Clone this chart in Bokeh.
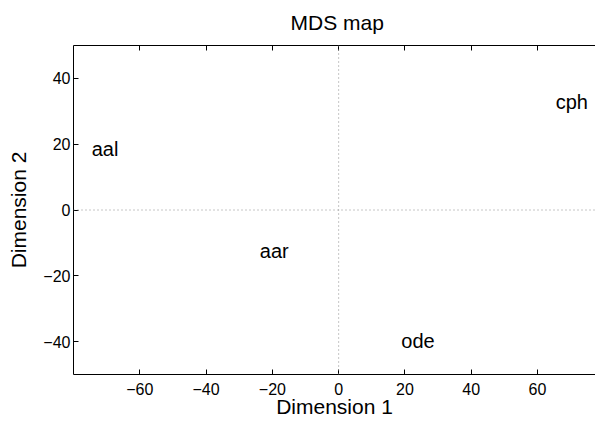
from bokeh.plotting import figure
from bokeh.models import Range1d, LinearAxis, FixedTicker, Span, ColumnDataSource, CustomLabelingPolicy
from bokeh.core.properties import value
from bokeh.embed import file_html
from bokeh.resources import INLINE

# data
names = ["aal", "aar", "cph", "ode"]
dim1 = [-74.5, -23.8, 65.5, 18.9]
dim2 = [18.6, -12.5, 32.8, -39.9]

x_ticks = [-60, -40, -20, 0, 20, 40, 60]
y_ticks = [-40, -20, 0, 20, 40]

FONT = "Liberation Sans"

def minus(v):
    return str(v).replace("-", "\u2212")

p = figure(width=595, height=421,
           x_range=Range1d(-80, 77.5), y_range=Range1d(-50, 50),
           output_backend="svg", toolbar_location=None,
           min_border_left=73, min_border_top=44, min_border_right=0, min_border_bottom=47,
           title="MDS map")
p.title.align = "left"
p.title.offset = 217
p.title.text_font = FONT
p.title.text_font_size = "21px"
p.title.text_font_style = "normal"
p.title.text_color = "black"
p.title.standoff = 16

p.grid.visible = False
p.outline_line_color = None
p.background_fill_color = "white"
p.border_fill_color = "white"

def style_axis(ax, ticks, label=None):
    ax.ticker = FixedTicker(ticks=ticks)
    ax.major_label_overrides = {t: minus(t) for t in ticks}
    ax.major_tick_in = 5
    ax.major_tick_out = 0
    ax.minor_tick_line_color = None
    ax.axis_line_color = "black"
    ax.axis_line_width = 1
    ax.major_tick_line_color = "black"
    ax.major_label_text_font = FONT
    ax.major_label_text_font_size = "16px"
    ax.major_label_text_color = "black"
    if label is not None:
        ax.axis_label = label
        ax.axis_label_text_font = FONT
        ax.axis_label_text_font_size = "21px"
        ax.axis_label_text_font_style = "normal"
        ax.axis_label_text_color = "black"

style_axis(p.xaxis[0], x_ticks, "Dimension 1")
p.xaxis[0].major_label_standoff = 8
p.xaxis[0].axis_label_standoff = -3
style_axis(p.yaxis[0], y_ticks, "Dimension 2")
p.yaxis[0].major_label_standoff = 3
p.yaxis[0].axis_label_standoff = 10

top = LinearAxis()
style_axis(top, x_ticks)
top.major_label_text_font_size = "1px"
top.major_label_standoff = 0
top.major_label_policy = CustomLabelingPolicy(code="return new Set()")
p.add_layout(top, "above")

p.add_layout(Span(location=0, dimension="width", line_color="#8c8c8c",
                  line_dash="1 3", line_width=1))
p.add_layout(Span(location=0, dimension="height", line_color="#8c8c8c",
                  line_dash="1 3", line_width=1))

src = ColumnDataSource(dict(x=dim1, y=dim2, name=names))
p.text(x="x", y="y", text="name", source=src, text_font=value(FONT),
       text_font_size="20px", text_align="left", text_baseline="middle",
       text_color="black")

open("out.html", "w").write(file_html(p, INLINE))
